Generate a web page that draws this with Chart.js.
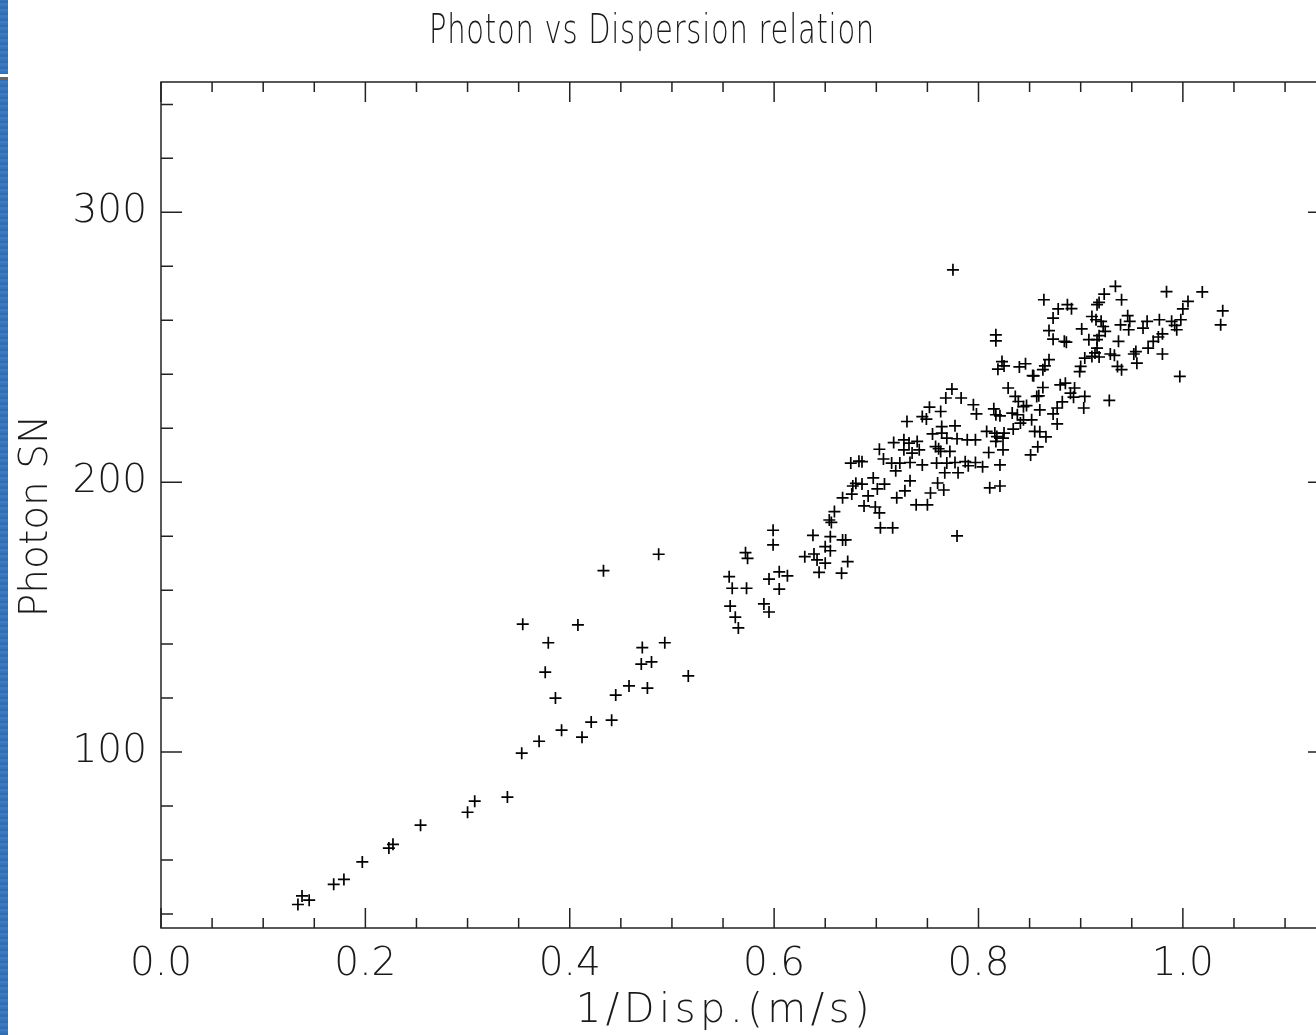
<!DOCTYPE html>
<html><head><meta charset="utf-8">
<script src="https://cdn.jsdelivr.net/npm/chart.js@4.4.1/dist/chart.umd.min.js"></script>
<style>
html,body{margin:0;padding:0;background:#fff;overflow:hidden;width:1316px;height:1035px;}
#wrap{position:absolute;left:0;top:0;width:1340px;height:1035px;}
#strip{position:absolute;left:0;top:0;width:8px;height:1035px;background:repeating-linear-gradient(180deg,#3b78bf 0px,#2d68ad 2px,#4180c6 4px,#3472b9 6px);z-index:2}
#gap{position:absolute;left:0;top:74px;width:8px;height:3px;background:#fff;z-index:3}
#bar{position:absolute;left:0;top:77px;width:8px;height:3px;background:#666;z-index:3}
</style></head><body>
<div id="wrap"><canvas id="c" width="1340" height="1035"></canvas></div>
<div id="strip"></div><div id="gap"></div><div id="bar"></div>
<script>
const chartTitle = 'Photon vs Dispersion relation';
const xAxisTitle = '1/Disp.(m/s)';
const yAxisTitle = 'Photon SN';
const xRange = [0, 1.143];
const yRange = [34.8, 348.3];
const xMajorTicks = [0, 0.2, 0.4, 0.6, 0.8, 1.0];
const xTickLabels = ['0.0', '0.2', '0.4', '0.6', '0.8', '1.0'];
const xMinorTicks = [0.05, 0.1, 0.15, 0.25, 0.3, 0.35, 0.45, 0.5, 0.55, 0.65, 0.7, 0.75, 0.85, 0.9, 0.95, 1.05, 1.1];
const yMajorTicks = [100, 200, 300];
const yTickLabels = ['100', '200', '300'];
const yMinorTicks = [40, 60, 80, 120, 140, 160, 180, 220, 240, 260, 280, 320, 340];

const dispInv = [
0.134,0.138,0.145,0.169,0.179,0.197,0.223,0.227,0.254,0.300,0.307,0.339,0.353,0.370,0.392,0.412,0.421,0.441,
0.354,0.379,0.376,0.386,0.408,0.433,0.487,0.445,0.458,0.476,0.471,0.470,0.480,0.493,0.516,
0.556,0.559,0.557,0.562,0.565,0.573,0.572,0.574,0.595,0.605,0.613,0.605,0.599,0.599,0.590,0.595,
0.638,0.630,0.639,0.642,0.644,0.650,0.655,0.650,0.655,0.667,0.670,0.672,0.666,0.654,0.659,0.656,
0.667,0.676,0.680,0.686,0.677,0.688,0.675,0.683,
0.775,0.817,0.817,0.823,0.825,0.819,0.840,0.846,0.853,0.774,0.768,0.783,0.752,0.763,0.745,0.749,0.730,
0.795,0.798,0.815,0.817,0.821,0.829,0.836,0.839,0.844,0.847,0.857,0.833,0.838,0.844,0.841,0.852,0.855,
0.764,0.777,0.755,0.764,0.769,0.779,0.789,0.797,0.808,0.816,0.818,0.825,0.834,0.817,0.824,
0.717,0.727,0.732,0.740,0.727,0.735,0.742,0.758,0.761,0.763,0.772,0.703,0.707,0.715,0.723,0.733,0.745,
0.759,0.769,0.777,0.787,0.797,0.810,0.824,0.851,0.821,0.686,
0.697,0.701,0.708,0.699,0.703,0.704,0.716,0.720,0.728,0.733,0.719,0.739,0.750,0.753,0.760,0.767,0.779,
0.780,0.790,0.804,0.811,0.821,0.766,0.692,
0.934,0.984,1.019,0.864,0.923,0.918,0.916,0.940,0.878,0.887,0.891,1.005,1.000,1.039,1.037,0.873,0.911,
0.915,0.920,0.946,0.948,0.939,0.947,0.922,0.924,0.965,0.961,0.977,0.989,0.992,0.998,0.994,0.869,0.873,
0.884,0.886,0.901,0.908,0.918,0.916,0.937,0.980,0.976,0.971,0.966,0.980,0.916,0.914,0.918,0.911,0.904,
0.900,0.899,0.929,0.933,0.936,0.940,0.954,0.952,0.955,0.997,0.869,0.865,0.863,0.854,0.863,0.859,0.880,
0.885,0.890,0.894,0.893,0.904,0.903,0.928,0.877,0.873,0.860,0.860,0.866,0.858,0.877,0.882
];
const photonSN = [
43.5,46.7,45.1,51.0,52.8,59.3,64.4,65.8,72.9,77.7,81.8,83.3,99.6,104.0,108.1,105.5,111.1,111.8,
147.4,140.5,129.6,120.0,147.1,167.2,173.3,121.1,124.5,123.7,138.7,132.6,133.4,140.5,128.2,
165.0,160.7,154.1,150.0,146.0,160.7,173.9,171.8,164.1,166.8,165.3,160.4,182.2,176.8,154.9,151.9,
180.3,172.4,173.4,171.2,166.6,176.1,174.6,170.0,179.8,178.6,178.6,170.6,166.3,186.0,189.1,185.1,
194.2,195.6,199.6,199.3,198.6,191.2,207.1,207.8,
278.7,254.6,252.4,244.7,243.1,241.9,242.7,243.9,239.5,234.5,231.2,231.2,227.8,226.2,224.3,223.4,222.5,
228.7,225.3,227.2,225.0,224.6,234.9,231.8,229.9,228.0,228.4,231.8,225.6,225.0,223.1,221.9,223.1,218.8,
220.6,220.9,217.9,218.2,216.3,216.1,215.7,215.7,218.8,218.2,216.9,218.2,219.7,215.1,216.3,
214.7,215.7,214.5,215.1,212.0,210.8,212.0,213.2,212.4,211.4,211.4,212.2,208.6,207.1,207.1,207.3,206.4,
207.1,207.1,207.3,207.6,207.3,211.0,212.0,210.1,206.4,207.6,
201.6,197.5,199.3,190.8,188.6,183.1,183.1,194.2,196.8,200.5,204.2,191.6,191.6,196.0,199.7,203.5,180.1,
203.5,206.1,205.7,197.9,198.6,197.1,194.9,
272.6,270.6,270.5,267.6,269.7,266.6,265.8,267.6,264.2,265.8,264.3,267.0,264.2,263.5,258.3,260.8,261.4,
260.2,259.6,261.7,259.6,258.3,256.5,257.7,255.9,259.6,257.1,260.2,259.6,258.1,260.2,256.5,256.2,253.0,
252.2,251.9,256.8,252.8,254.3,252.8,252.2,255.0,253.8,252.2,249.7,247.5,249.7,247.9,246.4,246.6,246.0,
242.9,241.0,247.5,247.0,242.9,241.7,248.4,247.5,244.1,239.2,245.4,243.1,241.7,239.4,235.1,232.0,236.1,
236.7,233.0,234.9,231.5,231.8,227.5,230.3,227.5,225.3,226.8,218.7,216.8,213.1,221.6,229.8
];

const textColor = '#1a1a1a';
const axisColor = '#222';
const tickFont = { family: '"DejaVu Sans"', size: 39, weight: 200 };

const idlFrame = {
  id: 'idlFrame',
  afterDatasetsDraw(chart) {
    const { ctx, chartArea: a, scales: { x, y } } = chart;
    ctx.save();
    ctx.strokeStyle = axisColor;
    ctx.lineWidth = 1.5;
    ctx.strokeRect(a.left, a.top, a.right - a.left, a.bottom - a.top);
    ctx.beginPath();
    const tx = (vals, len) => vals.forEach(v => {
      const p = x.getPixelForValue(v);
      ctx.moveTo(p, a.bottom); ctx.lineTo(p, a.bottom - len);
      ctx.moveTo(p, a.top); ctx.lineTo(p, a.top + len);
    });
    const ty = (vals, len) => vals.forEach(v => {
      const p = y.getPixelForValue(v);
      ctx.moveTo(a.left, p); ctx.lineTo(a.left + len, p);
      ctx.moveTo(a.right, p); ctx.lineTo(a.right - len, p);
    });
    tx(xMajorTicks, 20); tx(xMinorTicks, 10);
    ty(yMajorTicks, 21); ty(yMinorTicks, 12);
    ctx.stroke();
    ctx.restore();
  },
  afterDraw(chart) {
    const { ctx } = chart;
    ctx.save();
    ctx.fillStyle = textColor;
    ctx.textAlign = 'center';
    ctx.textBaseline = 'alphabetic';
    ctx.font = '200 40px "DejaVu Sans"';
    if ('letterSpacing' in ctx) ctx.letterSpacing = '1px';
    ctx.fillText(chartTitle, 652, 43, 446);
    ctx.font = '200 40px "DejaVu Sans"';
    if ('letterSpacing' in ctx) ctx.letterSpacing = '4.5px';
    ctx.fillText(xAxisTitle, 725, 1022);
    if ('letterSpacing' in ctx) ctx.letterSpacing = '0px';
    ctx.font = '200 39px "DejaVu Sans"';
    ctx.translate(47, 516);
    ctx.rotate(-Math.PI / 2);
    ctx.fillText(yAxisTitle, 0, 0);
    ctx.restore();
  }
};

new Chart(document.getElementById('c'), {
  type: 'scatter',
  data: {
    datasets: [{
      data: dispInv.map((v, i) => ({ x: v, y: photonSN[i] })),
      pointStyle: 'cross',
      pointRadius: 6,
      pointHoverRadius: 6,
      borderWidth: 1.7,
      borderColor: '#000',
      backgroundColor: '#000'
    }]
  },
  options: {
    responsive: false,
    animation: false,
    devicePixelRatio: 1,
    events: [],
    layout: { padding: { top: 82, right: 11, left: 0, bottom: 0 } },
    plugins: { legend: { display: false }, tooltip: { enabled: false }, title: { display: false } },
    scales: {
      x: {
        type: 'linear', min: xRange[0], max: xRange[1],
        afterBuildTicks: s => { s.ticks = xMajorTicks.map(v => ({ value: v })); },
        afterFit: s => { s.height = 107; },
        ticks: { callback: (v, i) => xTickLabels[i], font: tickFont, color: textColor, padding: 13, maxRotation: 0, autoSkip: false },
        grid: { display: false, drawTicks: false },
        border: { display: false }
      },
      y: {
        type: 'linear', min: yRange[0], max: yRange[1],
        afterBuildTicks: s => { s.ticks = yMajorTicks.map(v => ({ value: v })); },
        afterFit: s => { s.width = 161; },
        ticks: { callback: (v, i) => yTickLabels[i], font: tickFont, color: textColor, padding: 14, autoSkip: false },
        grid: { display: false, drawTicks: false },
        border: { display: false }
      }
    }
  },
  plugins: [idlFrame]
});
</script></body></html>
